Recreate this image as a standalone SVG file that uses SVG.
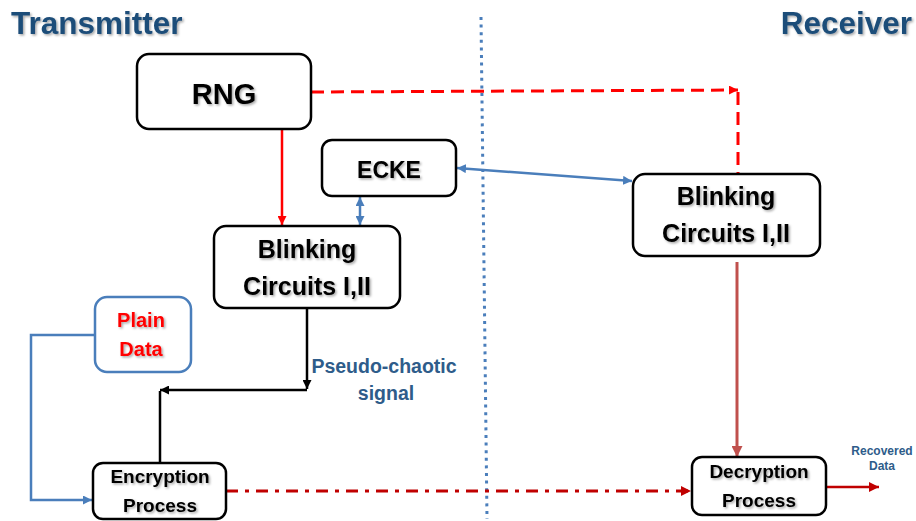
<svg xmlns="http://www.w3.org/2000/svg" width="916" height="521" viewBox="0 0 916 521">
<style>
.box{fill:#fff;stroke:#000;stroke-width:2.5}
.t{font-family:"Liberation Sans",Arial,sans-serif;font-weight:bold;text-anchor:middle;fill:#000}
.title{font-family:"Liberation Sans",Arial,sans-serif;font-weight:bold;fill:#1F4E79;font-size:31.5px}
</style>
<defs>
<filter id="sh" x="-10%" y="-10%" width="130%" height="140%"><feDropShadow dx="1.5" dy="1.5" stdDeviation="1" flood-color="#000" flood-opacity="0.35"/></filter>
<marker id="aRed" viewBox="0 0 10 10" refX="10" refY="5" markerWidth="9" markerHeight="9" markerUnits="userSpaceOnUse" orient="auto"><path d="M0,0L10,5L0,10z" fill="#FF0000"/></marker>
<marker id="aBlue" viewBox="0 0 10 10" refX="10" refY="5" markerWidth="9" markerHeight="9" markerUnits="userSpaceOnUse" orient="auto-start-reverse"><path d="M0,0L10,5L0,10z" fill="#4A7EBB"/></marker>
<marker id="aBlack" viewBox="0 0 10 10" refX="10" refY="5" markerWidth="9" markerHeight="9" markerUnits="userSpaceOnUse" orient="auto"><path d="M0,0L10,5L0,10z" fill="#000"/></marker>
<marker id="aDark" viewBox="0 0 10 10" refX="10" refY="5" markerWidth="10" markerHeight="10" markerUnits="userSpaceOnUse" orient="auto"><path d="M0,0L10,5L0,10z" fill="#C00000"/></marker>
<marker id="aBrick" viewBox="0 0 10 10" refX="10" refY="5" markerWidth="11" markerHeight="11" markerUnits="userSpaceOnUse" orient="auto"><path d="M0,0L10,5L0,10z" fill="#C0504D"/></marker>
</defs>
<rect width="916" height="521" fill="#fff"/>
<text class="title" x="11" y="34" filter="url(#sh)">Transmitter</text>
<text class="title" x="912" y="34" text-anchor="end" filter="url(#sh)">Receiver</text>
<g id="connectors" fill="none">
<line x1="481" y1="17" x2="487" y2="519" stroke="#4A7EBB" stroke-width="3" stroke-dasharray="3 4.6"/>
<path d="M311,92 L738,90" stroke="#FF0000" stroke-width="3" stroke-dasharray="13 7" marker-end="url(#aRed)"/>
<path d="M738,92 L738,173" stroke="#FF0000" stroke-width="3" stroke-dasharray="13 7"/>
<line x1="282" y1="129" x2="282" y2="225" stroke="#FF0000" stroke-width="2.5" marker-end="url(#aRed)"/>
<line x1="360" y1="197" x2="360" y2="225" stroke="#4A7EBB" stroke-width="2.5" marker-start="url(#aBlue)" marker-end="url(#aBlue)"/>
<line x1="457" y1="168" x2="632" y2="181" stroke="#4A7EBB" stroke-width="2.5" marker-start="url(#aBlue)" marker-end="url(#aBlue)"/>
<path d="M95,335 L31,335 L31,500 L92,500" stroke="#4A7EBB" stroke-width="2.5" marker-end="url(#aBlue)"/>
<line x1="307" y1="308" x2="307" y2="389" stroke="#000" stroke-width="2.5" marker-end="url(#aBlack)"/>
<line x1="307" y1="390" x2="160" y2="390" stroke="#000" stroke-width="2.5" marker-end="url(#aBlack)"/>
<line x1="160" y1="391" x2="160" y2="463" stroke="#000" stroke-width="2.5"/>
<line x1="226" y1="491" x2="691" y2="491" stroke="#C00000" stroke-width="3" stroke-dasharray="12 7 4 7" marker-end="url(#aDark)"/>
<line x1="737" y1="262" x2="737" y2="457" stroke="#C0504D" stroke-width="3" marker-end="url(#aBrick)"/>
<line x1="826" y1="487" x2="879" y2="487" stroke="#C00000" stroke-width="2.5" marker-end="url(#aDark)"/>
</g>
<g id="rng"><rect class="box" x="137" y="54" width="174" height="75" rx="12"/><text class="t" x="224" y="104" font-size="29" filter="url(#sh)">RNG</text></g>
<g id="ecke"><rect class="box" x="322" y="140" width="134" height="56" rx="10"/><text class="t" x="389" y="178" font-size="23" filter="url(#sh)">ECKE</text></g>
<g id="blink-tx"><rect class="box" x="214" y="226" width="186" height="82" rx="12"/><text class="t" x="307" y="258" font-size="25" filter="url(#sh)">Blinking</text><text class="t" x="307" y="295" font-size="25" filter="url(#sh)">Circuits I,II</text></g>
<g id="blink-rx"><rect class="box" x="633" y="174" width="187" height="82" rx="12"/><text class="t" x="726" y="205" font-size="25" filter="url(#sh)">Blinking</text><text class="t" x="726" y="242" font-size="25" filter="url(#sh)">Circuits I,II</text></g>
<g id="plain"><rect x="95" y="297" width="96" height="75" rx="12" fill="#fff" stroke="#4A7EBB" stroke-width="2.5"/><text class="t" x="141" y="327" font-size="20" style="fill:#FF0000" filter="url(#sh)">Plain</text><text class="t" x="141" y="356" font-size="20" style="fill:#FF0000" filter="url(#sh)">Data</text></g>
<g id="enc"><rect class="box" x="93" y="463" width="133" height="56" rx="10"/><text class="t" x="160" y="483" font-size="19" filter="url(#sh)">Encryption</text><text class="t" x="160" y="512" font-size="19" filter="url(#sh)">Process</text></g>
<g id="dec"><rect class="box" x="692" y="457" width="134" height="58" rx="10"/><text class="t" x="759" y="478" font-size="19" filter="url(#sh)">Decryption</text><text class="t" x="759" y="507" font-size="19" filter="url(#sh)">Process</text></g>
<g id="labels">
<text class="t" x="384" y="373" font-size="19.5" style="fill:#2E5C8A">Pseudo-chaotic</text>
<text class="t" x="386" y="400" font-size="19.5" style="fill:#2E5C8A">signal</text>
<text class="t" x="882" y="455" font-size="12" style="fill:#2E5C8A">Recovered</text>
<text class="t" x="882" y="470" font-size="12" style="fill:#2E5C8A">Data</text>
</g>
</svg>
